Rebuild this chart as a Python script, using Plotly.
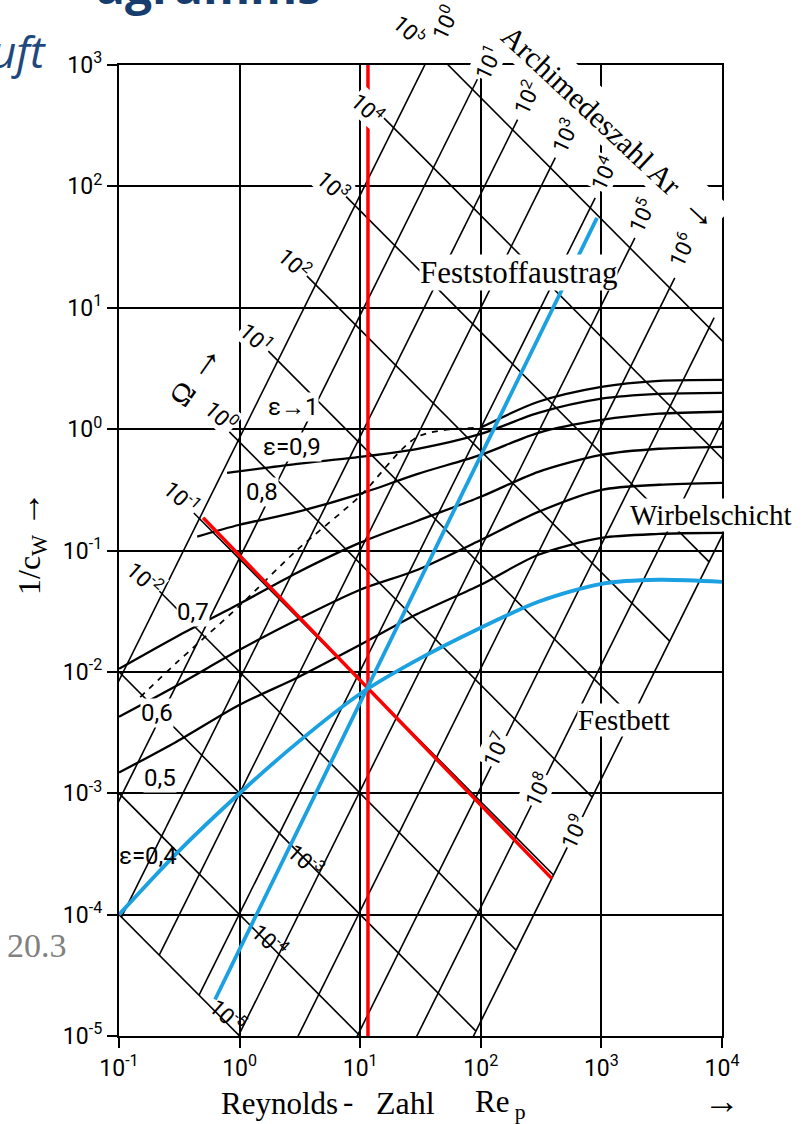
import plotly.graph_objects as go

# ---------------- data ----------------
RE_TICKS = [1e-1, 1e0, 1e1, 1e2, 1e3, 1e4]
RE_TICK_EXP = [-1, 0, 1, 2, 3, 4]
CW_TICKS = [1e-5, 1e-4, 1e-3, 1e-2, 1e-1, 1e0, 1e1, 1e2, 1e3]
CW_TICK_EXP = [-5, -4, -3, -2, -1, 0, 1, 2, 3]

# Archimedes lines  1/cw = coef * Re^2
AR_EXP = [0, 1, 2, 3, 4, 5, 6, 7, 8, 9]
AR_COEF = [0.85, 0.087, 8.7e-3, 1.0e-3, 1.02e-4, 1.05e-5, 1.07e-6, 1.12e-7, 1.15e-8, 1.32e-9]

# Omega lines  1/cw = coef / Re
OMEGA_EXP = [-5, -4, -3, -2, -1, 0, 1, 2, 3, 4, 5]
OMEGA_COEF = [1e-5, 1e-4, 1e-3, 1e-2, 0.085, 0.78, 7.6, 66, 630, 5750, 53700]

# porosity curves
RE_GRID = [0.1, 0.3, 1, 3, 10, 30, 100, 300, 1000, 3000, 10000]
EPS_04 = [1.0e-4, 3.2e-4, 1.0e-3, 2.6e-3, 6.6e-3, 0.0126, 0.0231, 0.0378, 0.0532, 0.0574, 0.0552]
EPS_05 = [1.48e-3, 2.66e-3, 5.36e-3, 8.95e-3, 0.0167, 0.0301, 0.0522, 0.0922, 0.127, 0.137, 0.140]
EPS_06 = [4.27e-3, 7.69e-3, 0.0152, 0.0269, 0.0475, 0.0694, 0.122, 0.208, 0.316, 0.348, 0.361]
EPS_07 = [0.0106, 0.0195, 0.0364, 0.0656, 0.116, 0.176, 0.277, 0.445, 0.614, 0.689, 0.715]
EPS_08_RE = [0.445, 1, 3, 10, 30, 100, 300, 1000, 3000, 10000]
EPS_08 = [0.130, 0.163, 0.208, 0.293, 0.428, 0.614, 0.932, 1.19, 1.34, 1.39]
EPS_09_RE = [0.787, 3, 10, 30, 100, 300, 1000, 3000, 10000]
EPS_09 = [0.436, 0.518, 0.591, 0.689, 0.914, 1.36, 1.78, 1.95, 1.99]
EPS_1_DASH_RE = [0.15, 0.3, 1, 3, 10, 30, 100]
EPS_1_DASH = [6.2e-3, 0.0119, 0.0351, 0.101, 0.282, 0.865, 1.03]
EPS_1_RE = [100, 300, 1000, 3000, 10000]
EPS_1 = [1.03, 1.68, 2.23, 2.50, 2.55]

# highlighted construction lines
RED_VERT_RE = 11.6
RED_DIAG_RE = [0.498, 389]
RED_DIAG_Y = [0.186, 1.98e-4]
BLUE_LINE_RE = [0.626, 919]
BLUE_LINE_Y = [2.0e-5, 55]

# ---------------- styling ----------------
SERIF = "Liberation Serif, Times New Roman, serif"
NARROW = "Roboto, Liberation Sans Narrow, Liberation Sans, sans-serif"
W, H = 805, 1124
L, R, T, B = 119, 722, 65, 1036
TICK_AR = 1.1
TICK_OM = 1.2


def px(x):
    return (x - L) / (R - L)


def py(y):
    return (B - y) / (B - T)


def sup(e):
    return "10<sup>%d</sup>" % e


def arrow(size):
    return "<span style='font-size:%dpx'>→</span>" % size


fig = go.Figure()

# Archimedes lattice lines
ar_x, ar_y = [], []
for a in AR_COEF:
    r0 = (OMEGA_COEF[0] / a) ** (1 / 3)
    r1 = (OMEGA_COEF[-1] / a) ** (1 / 3) * TICK_AR
    ar_x += [r0, r1, None]
    ar_y += [a * r0 * r0, a * r1 * r1, None]
fig.add_trace(go.Scatter(x=ar_x, y=ar_y, mode="lines",
                         line=dict(color="black", width=1.6), hoverinfo="skip"))

# Omega lattice lines
om_x, om_y = [], []
for w in OMEGA_COEF:
    r0 = (w / AR_COEF[0]) ** (1 / 3) / TICK_OM
    r1 = (w / AR_COEF[-1]) ** (1 / 3)
    om_x += [r0, r1, None]
    om_y += [w / r0, w / r1, None]
fig.add_trace(go.Scatter(x=om_x, y=om_y, mode="lines",
                         line=dict(color="black", width=1.6), hoverinfo="skip"))

# porosity curves
for xs, ys in [(RE_GRID, EPS_05), (RE_GRID, EPS_06), (RE_GRID, EPS_07),
               (EPS_08_RE, EPS_08), (EPS_09_RE, EPS_09), (EPS_1_RE, EPS_1)]:
    fig.add_trace(go.Scatter(x=xs, y=ys, mode="lines",
                             line=dict(color="black", width=2.3, shape="spline", smoothing=0.8),
                             hoverinfo="skip"))
fig.add_trace(go.Scatter(x=EPS_1_DASH_RE, y=EPS_1_DASH, mode="lines",
                         line=dict(color="black", width=1.7, dash="6px,6px", shape="spline", smoothing=0.8),
                         hoverinfo="skip"))

# red construction
fig.add_trace(go.Scatter(x=[RED_VERT_RE, RED_VERT_RE], y=[CW_TICKS[0], CW_TICKS[-1]], mode="lines",
                         line=dict(color="#ff0000", width=3.5), hoverinfo="skip"))
fig.add_trace(go.Scatter(x=RED_DIAG_RE, y=RED_DIAG_Y, mode="lines",
                         line=dict(color="#ff0000", width=3.5), hoverinfo="skip"))
# blue construction
fig.add_trace(go.Scatter(x=RE_GRID, y=EPS_04, mode="lines",
                         line=dict(color="#1ba1e2", width=3.8, shape="spline", smoothing=0.8),
                         hoverinfo="skip"))
fig.add_trace(go.Scatter(x=BLUE_LINE_RE, y=BLUE_LINE_Y, mode="lines",
                         line=dict(color="#1ba1e2", width=3.8), hoverinfo="skip"))

axis_common = dict(type="log", showgrid=True, gridcolor="black", gridwidth=2.4,
                   showline=True, linecolor="black", linewidth=2.4, mirror=True,
                   ticks="outside", ticklen=10, tickwidth=2, tickcolor="black",
                   tickfont=dict(family=NARROW, size=23, color="black"), zeroline=False)
fig.update_xaxes(range=[-1, 4], tickvals=RE_TICKS, ticktext=[sup(e) for e in RE_TICK_EXP], **axis_common)
fig.update_yaxes(range=[-5, 3], tickvals=CW_TICKS, ticktext=[sup(e) for e in CW_TICK_EXP], **axis_common)

anns = []


def ann(text, x, y, size, angle=0, family=SERIF, color="black", bg="white",
        xanchor="center", yanchor="middle", bold=False):
    font = dict(family=family, size=size, color=color)
    if bold:
        font["weight"] = "bold"
    d = dict(text=text, x=px(x), y=py(y), xref="paper", yref="paper",
             showarrow=False, textangle=angle, borderpad=0,
             xanchor=xanchor, yanchor=yanchor, font=font)
    if bg:
        d["bgcolor"] = bg
    anns.append(d)


# Omega labels (the three lowest sit beside the blue line, so no white box)
om_pos = [(228, 1015), (270, 940), (306, 860), (145, 578), (182, 497), (221, 415),
          (256, 337), (295, 263), (333, 185), (368, 108), (410, 30)]
for e, (x, y) in zip(OMEGA_EXP, om_pos):
    ann(sup(e), x, y, 22, angle=42, family=NARROW, bg=None if e <= -3 else "white")

# Archimedes labels
ar_pos = [(444, 23), (487, 63), (526, 97), (564, 136), (603, 173), (641, 215),
          (681, 250), (495, 750), (537, 790), (573, 832)]
for e, (x, y) in zip(AR_EXP, ar_pos):
    ann(sup(e), x, y, 22, angle=-65, family=NARROW)

# porosity labels
for t, (x, y), bg in [("ε→1", (293, 407), "white"), ("ε=0,9", (292, 447), "white"),
                      ("0,8", (262, 492), "white"), ("0,7", (193, 612), "white"),
                      ("0,6", (157, 713), "white"), ("0,5", (160, 778), "white"),
                      ("ε=0,4", (148, 856), None)]:
    ann(t, x, y, 24, family=NARROW, bg=bg)

# region labels
ann("Feststoffaustrag", 518, 272, 31)
ann("Wirbelschicht", 711, 515, 29)
ann("Festbett", 624, 720, 29)
ann("Archimedeszahl Ar  " + arrow(38), 612, 126, 30, angle=43)
ann("Ω " + arrow(40), 193, 372, 30, angle=-55)

# axis titles (word by word, as spaced in the original)
ann("Reynolds", 279, 1103, 31, bg=None)
ann("-", 348, 1101, 31, bg=None)
ann("Zahl", 405, 1103, 32, bg=None)
ann("Re<sub> p</sub>", 500, 1104, 31, bg=None)
ann(arrow(36), 722, 1101, 31, bg=None)
ann("1/c<sub>W</sub> " + arrow(36), 30, 543, 32, angle=-90, bg=None)

# slide remnants
ann("agramms", 95, -14, 48, family="Open Sans, sans-serif", color="#173d6e", bg=None,
    xanchor="left", bold=True)
ann("<i>uft</i>", 47, 51, 44, family="Open Sans, sans-serif", color="#1f497d", bg=None,
    xanchor="right")
ann("20.3", 68, 946, 34, family=SERIF, color="#808080", bg=None, xanchor="right")

fig.update_layout(width=W, height=H, margin=dict(l=L, r=W - R, t=T, b=H - B),
                  paper_bgcolor="white", plot_bgcolor="white", showlegend=False,
                  annotations=anns)

fig.write_html("out.html")
